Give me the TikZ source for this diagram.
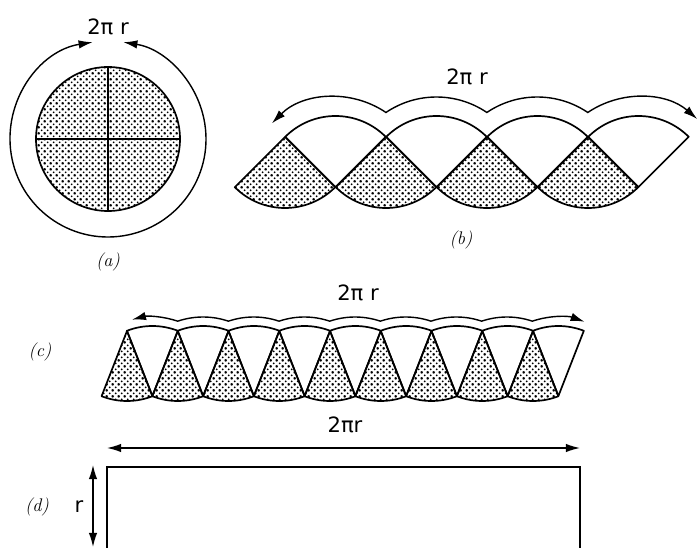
\documentclass[tikz,border=0pt]{standalone}
\usepackage{fontspec}
\usetikzlibrary{arrows.meta,patterns}
\newfontfamily\dimfont{DejaVu Sans}

\pgfdeclarepatternformonly{stipdots}{\pgfpointorigin}{\pgfpoint{4pt}{4pt}}{\pgfpoint{4pt}{4pt}}
{
  \pgfpathcircle{\pgfpoint{0pt}{0pt}}{.75pt}
  \pgfpathcircle{\pgfpoint{2pt}{2pt}}{.75pt}
  \pgfpathcircle{\pgfpoint{4pt}{0pt}}{.75pt}
  \pgfpathcircle{\pgfpoint{0pt}{4pt}}{.75pt}
  \pgfpathcircle{\pgfpoint{4pt}{4pt}}{.75pt}
  \pgfusepath{fill}
}

\begin{document}
\begin{tikzpicture}[x=0.025cm,y=0.025cm,
    outl/.style={draw,line width=1.2pt,line join=round},
    stipple/.style={outl,pattern=stipdots},
    dimarrow/.style={line width=1pt,{Latex[length=10pt,width=6pt]}-{Latex[length=10pt,width=6pt]}},
    dimlabel/.style={font=\dimfont\fontsize{15}{15}\selectfont},
    caption/.style={font=\itshape\fontsize{13}{13}\selectfont}]
  \useasboundingbox (0,0) rectangle (700,548);

  % (a) the disc and its circumference
  \coordinate (Oa) at (108,409);
  \path[stipple] (Oa) circle[radius=72];
  \draw[outl] (Oa) ++(-72,0) -- ++(144,0) (Oa) ++(0,-72) -- ++(0,144);
  \path (Oa) ++(99:98) coordinate (aL);
  \draw[dimarrow] (aL) arc[start angle=99,end angle=441,radius=98];
  \node[dimlabel] (la) at (108,521) {2π r};
  \node[caption] (ca) at (108,286) {(a)};

  % (b) four quarters laid side by side
  \foreach \i in {0,...,3} {
    \path[stipple] (285+101*\i,411) coordinate (s\i)
      -- ++(225:71) arc[start angle=225,end angle=315,radius=71] -- cycle;
    \draw[outl] (335.5+101*\i,361) coordinate (w\i)
      -- ++(45:71) arc[start angle=45,end angle=135,radius=71] -- cycle;
  }
  \path (w0) ++(135:90) coordinate (bL);
  \draw[dimarrow] (bL) arc[start angle=135,end angle=55.9,radius=90]
    \foreach \k in {1,2} {arc[start angle=124.1,end angle=55.9,radius=90]}
    arc[start angle=124.1,end angle=49,radius=90];
  \node[dimlabel] (lb) at (467,471) {2π r};
  \node[caption] (cb) at (461,308) {(b)};

  % (c) eighteen thin slices
  \foreach \i in {0,...,8} {
    \path[stipple] (127+50.75*\i,217) coordinate (cs\i)
      -- ++(248.7:70) arc[start angle=248.7,end angle=291.3,radius=70] -- cycle;
    \draw[outl] (152.4+50.75*\i,152) coordinate (cw\i)
      -- ++(68.7:70) arc[start angle=68.7,end angle=111.3,radius=70] -- cycle;
  }
  \path (cw0) ++(105:79) coordinate (cL);
  \draw[dimarrow] (cL) arc[start angle=105,end angle=71.3,radius=79]
    \foreach \k in {1,...,7} {arc[start angle=108.7,end angle=71.3,radius=79]}
    arc[start angle=108.7,end angle=70,radius=79];
  \node[dimlabel] (lc) at (358,255) {2π r};
  \node[caption] (cc) at (40,196) {(c)};

  % (d) the limiting rectangle
  \coordinate (dBL) at (107,0);
  \coordinate (dTL) at (107,81);
  \coordinate (dTR) at (580,81);
  \coordinate (dBR) at (580,0);
  \draw[line width=0.8pt] (dBL) -- (dTL) -- (dTR) -- (dBR);
  \coordinate (hL) at (107,100);
  \coordinate (hR) at (580,100);
  \draw[dimarrow] (hL) -- (hR);
  \node[dimlabel] (ld) at (345,123) {2πr};
  \coordinate (vT) at (93,83);
  \coordinate (vB) at (93,1);
  \draw[dimarrow] (vT) -- (vB);
  \node[dimlabel] (lr) at (79,41) {r};
  \node[caption] (cd) at (37,41) {(d)};
\end{tikzpicture}
\end{document}
